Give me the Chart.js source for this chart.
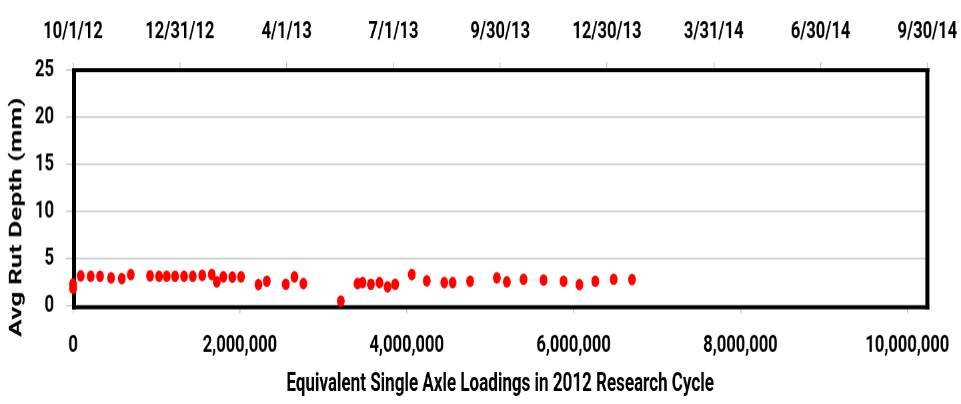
<!DOCTYPE html>
<html><head><meta charset="utf-8">
<script src="https://cdn.jsdelivr.net/npm/chart.js@4.4.1/dist/chart.umd.min.js"></script>
<style>
html,body{margin:0;padding:0;background:#fff;overflow:hidden;width:961px;height:404px}
#wrap{position:absolute;left:0;top:0;width:961px;height:269px;transform-origin:0 0}
</style></head><body>
<div id="wrap"><canvas id="c" width="961" height="269"></canvas></div>
<script>
// ---- data ----
const esal = [0, 0, 92000, 212000, 324000, 456000, 584000, 692000, 923000, 1031000, 1123000, 1223000, 1331000, 1435000, 1549000, 1663000, 1723000, 1802000, 1910000, 2014000, 2222000, 2322000, 2550000, 2654000, 2761000, 3210000, 3410000, 3470000, 3570000, 3673000, 3770000, 3861000, 4060000, 4240000, 4450000, 4550000, 4760000, 5080000, 5200000, 5400000, 5640000, 5880000, 6070000, 6260000, 6480000, 6700000];
const rutDepth = [1.8, 2.3, 3.14, 3.1, 3.1, 2.92, 2.85, 3.28, 3.14, 3.1, 3.1, 3.1, 3.1, 3.1, 3.2, 3.28, 2.5, 3.03, 3.0, 3.03, 2.21, 2.57, 2.25, 3.03, 2.32, 0.46, 2.32, 2.43, 2.25, 2.43, 1.96, 2.25, 3.28, 2.6, 2.43, 2.43, 2.57, 2.92, 2.5, 2.78, 2.68, 2.57, 2.21, 2.57, 2.78, 2.75];
const xTickValues = [0, 2000000, 4000000, 6000000, 8000000, 10000000];
const yTickValues = [0, 5, 10, 15, 20, 25];
const dateLabels = ['10/1/12', '12/31/12', '4/1/13', '7/1/13', '9/30/13', '12/30/13', '3/31/14', '6/30/14', '9/30/14'];
const xTitle = 'Equivalent Single Axle Loadings in 2012 Research Cycle';
const yTitle = 'Avg Rut Depth (mm)';

// ---- vertical stretch of the reference picture ----
const H = 269;
const S = 404 / H;
document.getElementById('wrap').style.transform = 'scaleY(' + S + ')';
const r = v => v / S;

const tickFont = {family: 'Roboto', size: 16.5, weight: 'bold'};
const gridGray = '#c8c8c8';

const framePlugin = {
  id: 'frame',
  beforeDatasetsDraw(chart) {
    const {ctx, chartArea: a} = chart;
    ctx.save();
    ctx.strokeStyle = '#000';
    ctx.lineCap = 'butt';
    ctx.lineWidth = 4;
    ctx.beginPath();
    ctx.moveTo(a.left + 1, a.top - r(2)); ctx.lineTo(a.left + 1, a.bottom + r(4));
    ctx.moveTo(a.right, a.top - r(2)); ctx.lineTo(a.right, a.bottom + r(4));
    ctx.stroke();
    ctx.lineWidth = r(4);
    ctx.beginPath();
    ctx.moveTo(a.left - 1, a.top); ctx.lineTo(a.right + 2, a.top);
    ctx.moveTo(a.left - 1, a.bottom + r(2)); ctx.lineTo(a.right + 2, a.bottom + r(2));
    ctx.stroke();
    ctx.restore();
  }
};

const xMax = 10240000;

new Chart(document.getElementById('c'), {
  type: 'scatter',
  data: {
    datasets: [{
      data: esal.map((x, i) => ({x: x, y: rutDepth[i]})),
      backgroundColor: '#ff0000',
      borderColor: '#ff0000',
      pointRadius: 3.9,
      pointBorderWidth: 0,
      clip: false
    }]
  },
  options: {
    responsive: false,
    animation: false,
    devicePixelRatio: 1.5,
    layout: {padding: {left: 0, right: 34, top: 0, bottom: 0}},
    plugins: {legend: {display: false}, tooltip: {enabled: false}},
    scales: {
      x: {
        type: 'linear', position: 'bottom', min: 0, max: xMax,
        afterBuildTicks: s => { s.ticks = xTickValues.map(v => ({value: v})); },
        afterFit: s => { s.height = H - r(305); s.paddingLeft = 0; s.paddingRight = 0; },
        border: {display: false},
        grid: {drawOnChartArea: false, drawTicks: true, tickLength: r(8), color: gridGray, lineWidth: 1},
        ticks: {
          font: tickFont, color: '#000', padding: 11.4, maxRotation: 0, autoSkip: false,
          callback: v => Number(v).toLocaleString('en-US')
        },
        title: {display: true, text: xTitle, color: '#000',
          font: {family: 'Roboto', size: 17, weight: 'bold'}, padding: {top: 0, bottom: 3.1}}
      },
      x2: {
        type: 'linear', axis: 'x', position: 'top', min: 0, max: dateLabels.length - 1,
        afterBuildTicks: s => { s.ticks = dateLabels.map((d, i) => ({value: i})); },
        afterFit: s => { s.height = r(70); s.paddingLeft = 0; s.paddingRight = 0; },
        border: {display: false},
        grid: {drawOnChartArea: false, drawTicks: true, tickLength: r(8), color: gridGray, lineWidth: 1},
        ticks: {
          font: tickFont, color: '#000', padding: 10.1, maxRotation: 0, autoSkip: false,
          callback: (v, i) => dateLabels[i]
        }
      },
      y: {
        type: 'linear', position: 'left', min: 0, max: 25,
        afterBuildTicks: s => { s.ticks = yTickValues.map(v => ({value: v})); },
        afterFit: s => { s.width = 73; s.paddingTop = 0; s.paddingBottom = 0; },
        border: {display: false},
        grid: {drawOnChartArea: true, drawTicks: true, tickLength: 7, color: gridGray, lineWidth: 1},
        ticks: {font: tickFont, color: '#000', padding: 12},
        title: {display: true, text: yTitle + '\u00A0'.repeat(9), color: '#000',
          font: {family: 'Roboto', size: 17.5, weight: 'bold'}, padding: {top: 6.5, bottom: 0}}
      }
    }
  },
  plugins: [framePlugin]
});
</script>
</body></html>
